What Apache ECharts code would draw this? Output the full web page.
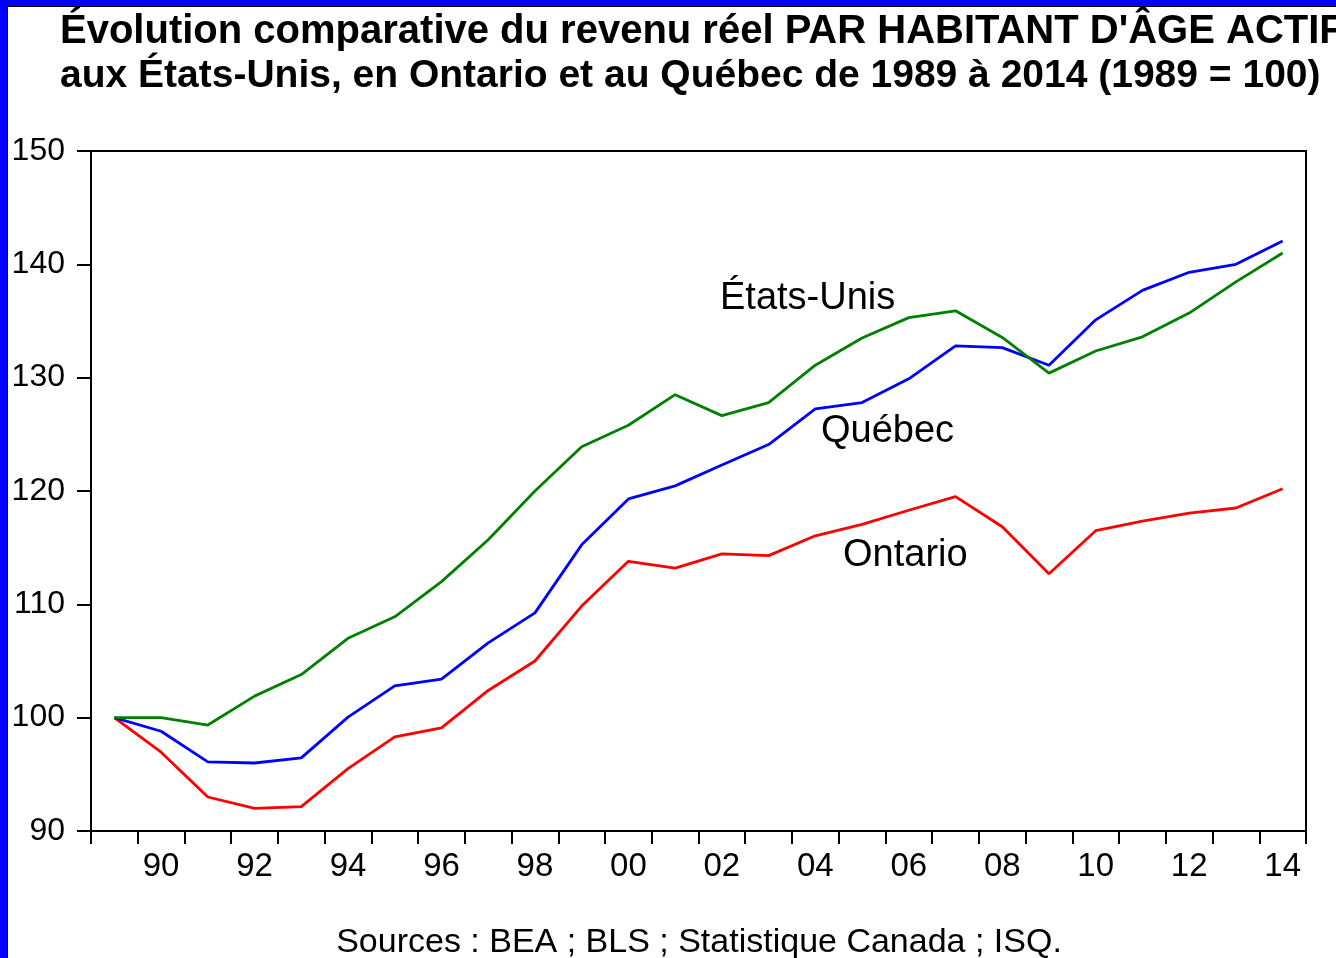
<!DOCTYPE html>
<html>
<head>
<meta charset="utf-8">
<script src="https://cdn.jsdelivr.net/npm/echarts@6/dist/echarts.min.js"></script>
<style>
  html, body { margin: 0; padding: 0; background: #fff; }
  #chart { position: absolute; left: 0; top: 0; width: 1336px; height: 958px; }
  #frame {
    position: absolute; left: 0; top: 0; width: 1336px; height: 958px;
    box-sizing: border-box; pointer-events: none;
    border-left: 7px solid #0000ff; border-top: 6px solid #0000ff;
  }
  #frame div {
    position: absolute; left: 0; top: 0; right: 0; bottom: 0;
    border-left: 1px solid #000; border-top: 1px solid #000;
  }
</style>
</head>
<body>
<div id="chart"></div>
<div id="frame"><div></div></div>
<script>
  // années 1989 à 2014
  const years = ['1989', '1990', '1991', '1992', '1993', '1994', '1995', '1996', '1997', '1998', '1999', '2000', '2001',
                 '2002', '2003', '2004', '2005', '2006', '2007', '2008', '2009', '2010', '2011', '2012', '2013', '2014'];
  const etatsUnis = [100, 100, 99.35, 101.9, 103.8, 107.0, 108.9, 112.0, 115.7, 120.0, 123.9, 125.8, 128.5,
                     126.65, 127.8, 131.1, 133.5, 135.3, 135.9, 133.55, 130.4, 132.35, 133.6, 135.7, 138.45, 141.0];
  const quebec = [100, 98.8, 96.1, 96.0, 96.45, 100.05, 102.8, 103.4, 106.6, 109.25, 115.25, 119.3, 120.45,
                  122.3, 124.1, 127.25, 127.8, 129.9, 132.8, 132.65, 131.1, 135.1, 137.7, 139.3, 140.0, 142.05];
  const ontario = [100, 96.95, 93.0, 92.0, 92.15, 95.5, 98.3, 99.1, 102.4, 105.0, 109.85, 113.8, 113.2,
                   114.45, 114.3, 116.05, 117.05, 118.3, 119.5, 116.85, 112.7, 116.5, 117.35, 118.05, 118.5, 120.2];
  const yTicks = [90, 100, 110, 120, 130, 140, 150];

  const font = '"Liberation Sans", Arial, sans-serif';
  const chart = echarts.init(document.getElementById('chart'));

  chart.setOption({
    backgroundColor: '#ffffff',
    animation: false,
    title: {
      text: '{a|Évolution comparative du revenu réel PAR HABITANT D\'ÂGE ACTIF}\n{b|aux États-Unis, en Ontario et au Québec de 1989 à 2014 (1989 = 100)}',
      left: 60,
      top: 9,
      padding: 0,
      textStyle: {
        fontFamily: font,
        fontWeight: 'bold',
        color: '#000',
        rich: {
          a: { fontFamily: font, fontWeight: 'bold', fontSize: 40, lineHeight: 45, color: '#000' },
          b: { fontFamily: font, fontWeight: 'bold', fontSize: 39, lineHeight: 45, color: '#000' }
        }
      }
    },
    grid: {
      show: true,
      left: 91,
      right: 30,
      top: 151,
      bottom: 127,
      borderColor: '#000',
      borderWidth: 2,
      backgroundColor: '#fff'
    },
    xAxis: {
      type: 'category',
      data: years,
      boundaryGap: true,
      axisLine: { lineStyle: { color: '#000', width: 2 } },
      axisTick: {
        show: true,
        alignWithLabel: false,
        interval: 0,
        length: 13,
        lineStyle: { color: '#000', width: 2 }
      },
      axisLabel: {
        interval: function (index) { return index % 2 === 1; },
        formatter: function (v) { return v.slice(2); },
        margin: 19,
        fontFamily: font,
        fontSize: 33,
        color: '#000'
      },
      splitLine: { show: false }
    },
    yAxis: {
      type: 'value',
      min: yTicks[0],
      max: yTicks[yTicks.length - 1],
      interval: 10,
      axisLine: { show: true, lineStyle: { color: '#000', width: 2 } },
      axisTick: { show: true, length: 14, lineStyle: { color: '#000', width: 2 } },
      axisLabel: {
        margin: 26,
        fontFamily: font,
        fontSize: 32,
        color: '#000'
      },
      splitLine: { show: false }
    },
    series: [
      {
        name: 'Ontario',
        type: 'line',
        data: ontario,
        symbol: 'none',
        lineStyle: { color: '#ff0000', width: 2.8 }
      },
      {
        name: 'Québec',
        type: 'line',
        data: quebec,
        symbol: 'none',
        lineStyle: { color: '#0000ff', width: 2.8 }
      },
      {
        name: 'États-Unis',
        type: 'line',
        data: etatsUnis,
        symbol: 'none',
        lineStyle: { color: '#008000', width: 2.8 }
      }
    ],
    graphic: [
      { type: 'text', x: 720, y: 299, style: { text: 'États-Unis', font: '38px ' + font, fill: '#000', verticalAlign: 'middle' } },
      { type: 'text', x: 821, y: 432, style: { text: 'Québec', font: '38px ' + font, fill: '#000', verticalAlign: 'middle' } },
      { type: 'text', x: 843, y: 556, style: { text: 'Ontario', font: '38px ' + font, fill: '#000', verticalAlign: 'middle' } },
      {
        type: 'text', x: 699, y: 943,
        style: { text: 'Sources : BEA ; BLS ; Statistique Canada ; ISQ.', font: '34px ' + font, fill: '#000', align: 'center', verticalAlign: 'middle' }
      }
    ]
  });
</script>
</body>
</html>
